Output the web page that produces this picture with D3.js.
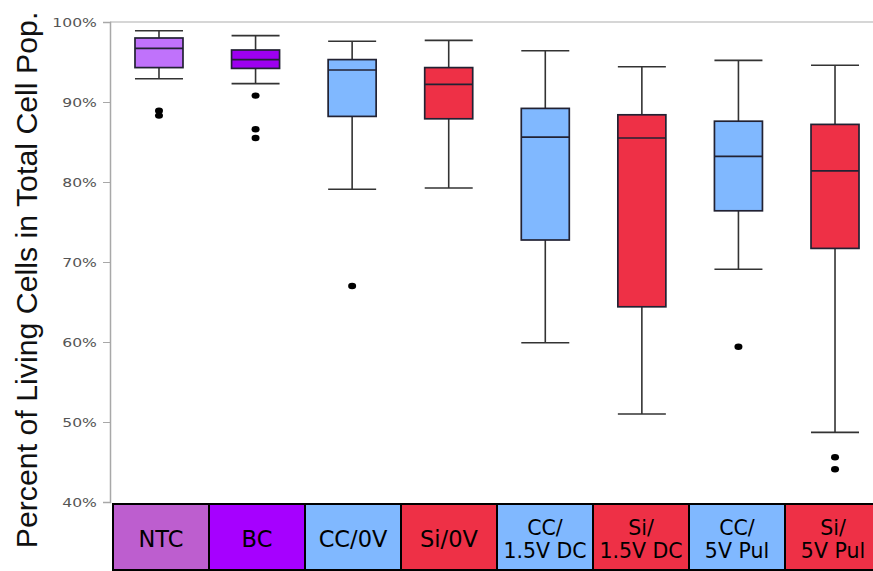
<!DOCTYPE html>
<html><head><meta charset="utf-8">
<script src="https://cdn.jsdelivr.net/npm/d3@7/dist/d3.min.js"></script>
<style>body{margin:0;background:#fff}svg{display:block}</style>
</head><body>
<svg id="c" width="873" height="571"></svg>
<script>
const categories = ["NTC","BC","CC/0V","Si/0V","CC/\n1.5V DC","Si/\n1.5V DC","CC/\n5V Pul","Si/\n5V Pul"];
const whiskerLow  = [92.9, 92.3, 79.1, 79.25, 59.9, 51.0, 69.1, 48.7];
const q1          = [94.3, 94.2, 88.2, 87.9, 72.75, 64.4, 76.4, 71.7];
const median      = [96.7, 95.3, 94.0, 92.2, 85.6, 85.5, 83.2, 81.4];
const q3          = [98.0, 96.5, 95.3, 94.3, 89.2, 88.4, 87.6, 87.2];
const whiskerHigh = [98.9, 98.3, 97.6, 97.7, 96.4, 94.4, 95.2, 94.6];
const outliers    = [[88.9, 88.3], [90.8, 86.6, 85.5], [67.0], [], [], [], [59.4], [45.6, 44.1]];
const yTicks = [40, 50, 60, 70, 80, 90, 100];
const boxColors = ["#c072fb","#9d00f0","#80b8ff","#ee3046","#80b8ff","#ee3046","#80b8ff","#ee3046"];
const labelColors = ["#bd5ecf","#a600ff","#80b8ff","#ee3046","#80b8ff","#ee3046","#80b8ff","#ee3046"];

const svg = d3.select("#c");
const y = d3.scaleLinear().domain([40, 100]).range([502, 22]);
const x = d3.scaleBand().domain(categories).range([110.7, 883.3]);
const xl = d3.scaleBand().domain(categories).range([113, 881]);
const bw = 48;

// top border line
svg.append("line").attr("x1", 110).attr("x2", 873).attr("y1", y(100)).attr("y2", y(100))
  .attr("stroke", "#c8c8c8").attr("stroke-width", 1.5);

// y axis
const ax = svg.append("g").attr("transform", "translate(110,0)")
  .call(d3.axisLeft(y).tickValues(yTicks).tickSize(7).tickFormat(d => d + "%"));
ax.select(".domain").attr("stroke", "#a8a8a8").attr("stroke-width", 1.5);
ax.selectAll(".tick line").attr("stroke", "#a8a8a8");
ax.selectAll(".tick text").attr("font-family", "DejaVu Sans").attr("font-size", 12.5)
  .attr("fill", "#555").attr("x", -10.5).attr("dy", "0.36em").attr("transform", "scale(1.25,1)");

// y label
svg.append("text").attr("transform", "translate(37,280) rotate(-90)")
  .attr("text-anchor", "middle").attr("font-family", "Liberation Sans, Arial, sans-serif")
  .attr("font-size", 30.3).attr("fill", "#111").text("Percent of Living Cells in Total Cell Pop.");

// boxes
const g = svg.append("g");
categories.forEach((c, i) => {
  const cx = x(c) + x.bandwidth() / 2;
  const gg = g.append("g");
  gg.append("line").attr("x1", cx).attr("x2", cx).attr("y1", y(whiskerHigh[i])).attr("y2", y(whiskerLow[i]))
    .attr("stroke", "#333").attr("stroke-width", 1.6);
  [whiskerHigh[i], whiskerLow[i]].forEach(v => {
    gg.append("line").attr("x1", cx - bw / 2).attr("x2", cx + bw / 2).attr("y1", y(v)).attr("y2", y(v))
      .attr("stroke", "#333").attr("stroke-width", 1.6);
  });
  gg.append("rect").attr("x", cx - bw / 2).attr("width", bw).attr("y", y(q3[i])).attr("height", y(q1[i]) - y(q3[i]))
    .attr("fill", boxColors[i]).attr("stroke", "#222233").attr("stroke-width", 1.7);
  gg.append("line").attr("x1", cx - bw / 2).attr("x2", cx + bw / 2).attr("y1", y(median[i])).attr("y2", y(median[i]))
    .attr("stroke", "#222233").attr("stroke-width", 1.7);
  outliers[i].forEach(v => {
    gg.append("ellipse").attr("cx", cx).attr("cy", y(v)).attr("rx", 4).attr("ry", 3.2).attr("fill", "#000");
  });
});

// category label boxes
const lg = svg.append("g");
categories.forEach((c, i) => {
  const x0 = xl(c);
  lg.append("rect").attr("x", x0).attr("y", 504).attr("width", xl.bandwidth()).attr("height", 66)
    .attr("fill", labelColors[i]).attr("stroke", "#000").attr("stroke-width", 2);
  const lines = c.split("\n");
  const t = lg.append("text").attr("text-anchor", "middle").attr("font-family", "DejaVu Sans")
    .attr("fill", "#000");
  if (lines.length === 1) {
    t.attr("font-size", 22.5);
    t.append("tspan").attr("x", x0 + xl.bandwidth() / 2).attr("y", 547).text(lines[0]);
  } else {
    t.attr("font-size", 20.5);
    t.append("tspan").attr("x", x0 + xl.bandwidth() / 2).attr("y", 535).text(lines[0]);
    t.append("tspan").attr("x", x0 + xl.bandwidth() / 2).attr("y", 558).text(lines[1]);
  }
});
</script>
</body></html>
